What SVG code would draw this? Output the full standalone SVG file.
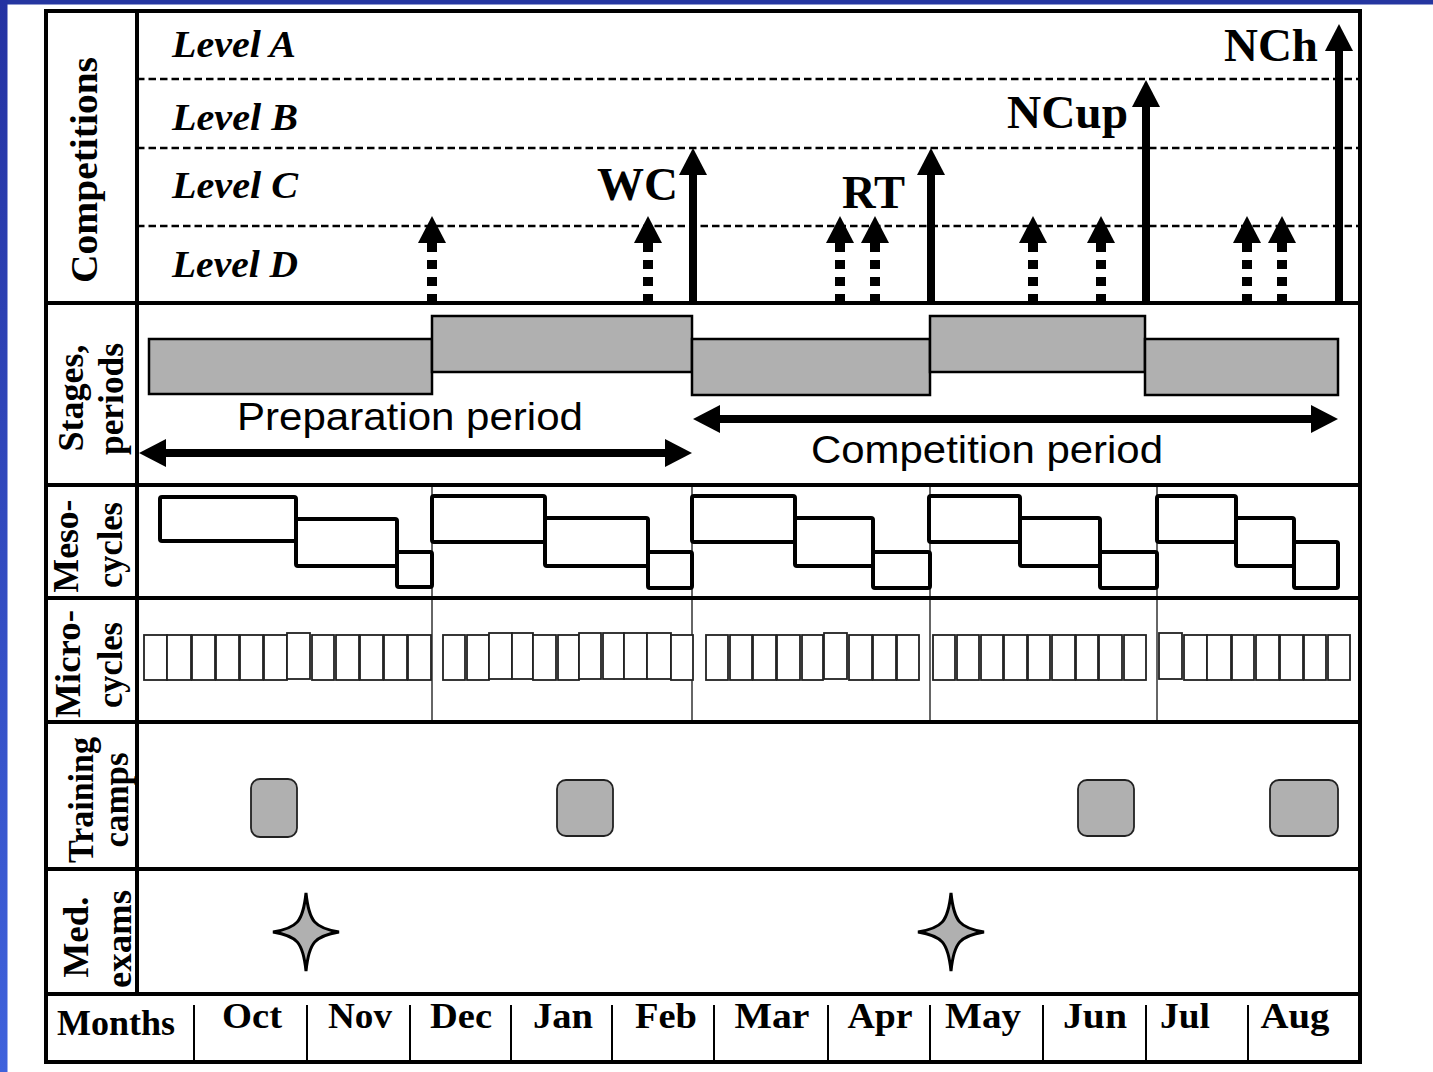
<svg xmlns="http://www.w3.org/2000/svg" width="1433" height="1072" viewBox="0 0 1433 1072">
<defs>
<style>
.frame{fill:none;stroke:#000;stroke-width:4}
.div{stroke:#000;stroke-width:4}
.dash{stroke:#000;stroke-width:2.5;stroke-dasharray:7.5 4}
.thin{stroke:#333;stroke-width:1.5}
.msep{stroke:#000;stroke-width:2}
.lbl{font-family:"Liberation Serif","Times New Roman",serif;font-weight:bold;fill:#000;text-anchor:middle}
.lvl{font-family:"Liberation Serif","Times New Roman",serif;font-weight:bold;font-style:italic;font-size:37px;fill:#000}
.comp{font-family:"Liberation Serif","Times New Roman",serif;font-weight:bold;font-size:46px;fill:#000}
.per{font-family:"Liberation Sans",Arial,sans-serif;font-size:38px;fill:#000}
.mon{font-family:"Liberation Serif","Times New Roman",serif;font-weight:bold;font-size:36px;fill:#000;text-anchor:middle}
.stage{fill:#b0b0b0;stroke:#000;stroke-width:2.5}
.meso{fill:none;stroke:#000;stroke-width:4;stroke-linejoin:round}
.micro{fill:#fff;stroke:#222;stroke-width:1.8}
.camp{fill:#b0b0b0;stroke:#222;stroke-width:1.8}
.star{fill:#b0b0b0;stroke:#000;stroke-width:3;stroke-linejoin:miter}
.solid{stroke:#000;stroke-width:8;fill:none}
.dotted{stroke:#000;stroke-width:10;stroke-dasharray:9 8;fill:none}
.period{stroke:#000;stroke-width:8;fill:none}
</style>
<linearGradient id="side" x1="0" y1="0" x2="0" y2="1">
<stop offset="0" stop-color="#2432a2"/>
<stop offset="1" stop-color="#3f62dc"/>
</linearGradient>
<marker id="headS" markerUnits="userSpaceOnUse" markerWidth="28" markerHeight="28" viewBox="0 0 28 28" refX="17" refY="14" orient="auto-start-reverse">
<path d="M0,0 L27,14 L0,28 Z" fill="#000"/>
</marker>
<marker id="headD" markerUnits="userSpaceOnUse" markerWidth="28" markerHeight="28" viewBox="0 0 28 28" refX="0" refY="14" orient="auto">
<path d="M0,0 L27,14 L0,28 Z" fill="#000"/>
</marker>
<path id="starShape" d="M0,-39 C3,-10 9,-4 33,0 C9,4 3,10 0,39 C-3,10 -9,4 -33,0 C-9,-4 -3,-10 0,-39 Z"/>
</defs>

<rect x="0" y="0" width="1433" height="1072" fill="#fff"/>
<rect x="0" y="0" width="1433" height="4.5" fill="#2536a0"/>
<rect x="0" y="0" width="7.5" height="1072" fill="url(#side)"/>

<g id="grid">
<line class="dash" x1="137" y1="79" x2="1360" y2="79"/>
<line class="dash" x1="137" y1="148" x2="1360" y2="148"/>
<line class="dash" x1="137" y1="226" x2="1360" y2="226"/>
<line class="thin" x1="432" y1="487" x2="432" y2="720"/>
<line class="thin" x1="692" y1="487" x2="692" y2="720"/>
<line class="thin" x1="930" y1="487" x2="930" y2="720"/>
<line class="thin" x1="1157" y1="487" x2="1157" y2="720"/>
<rect class="frame" x="46" y="11" width="1314" height="1051"/>
<line class="div" x1="137" y1="11" x2="137" y2="994"/>
<line class="div" x1="46" y1="303" x2="1360" y2="303"/>
<line class="div" x1="46" y1="485" x2="1360" y2="485"/>
<line class="div" x1="46" y1="598" x2="1360" y2="598"/>
<line class="div" x1="46" y1="722" x2="1360" y2="722"/>
<line class="div" x1="46" y1="869" x2="1360" y2="869"/>
<line class="div" x1="46" y1="994" x2="1360" y2="994"/>
</g>

<g id="row-labels">
<text class="lbl" font-size="38" transform="translate(97,170) rotate(-90)" textLength="226" lengthAdjust="spacingAndGlyphs">Competitions</text>
<text class="lbl" font-size="36" transform="translate(83,398) rotate(-90)" textLength="107" lengthAdjust="spacingAndGlyphs">Stages,</text>
<text class="lbl" font-size="36" transform="translate(123,399) rotate(-90)" textLength="112" lengthAdjust="spacingAndGlyphs">periods</text>
<text class="lbl" font-size="35" transform="translate(78,546) rotate(-90)" textLength="93" lengthAdjust="spacingAndGlyphs">Meso-</text>
<text class="lbl" font-size="35" transform="translate(122,545) rotate(-90)" textLength="86" lengthAdjust="spacingAndGlyphs">cycles</text>
<text class="lbl" font-size="35" transform="translate(80,664) rotate(-90)" textLength="108" lengthAdjust="spacingAndGlyphs">Micro-</text>
<text class="lbl" font-size="35" transform="translate(122,665) rotate(-90)" textLength="86" lengthAdjust="spacingAndGlyphs">cycles</text>
<text class="lbl" font-size="36" transform="translate(93,800) rotate(-90)" textLength="126" lengthAdjust="spacingAndGlyphs">Training</text>
<text class="lbl" font-size="36" transform="translate(128,800) rotate(-90)" textLength="95" lengthAdjust="spacingAndGlyphs">camps</text>
<text class="lbl" font-size="36" transform="translate(88,937) rotate(-90)" textLength="81" lengthAdjust="spacingAndGlyphs">Med.</text>
<text class="lbl" font-size="36" transform="translate(131,939) rotate(-90)" textLength="98" lengthAdjust="spacingAndGlyphs">exams</text>
</g>

<g id="levels">
<text class="lvl" x="172" y="57" textLength="124" lengthAdjust="spacingAndGlyphs">Level A</text>
<text class="lvl" x="172" y="130" textLength="126" lengthAdjust="spacingAndGlyphs">Level B</text>
<text class="lvl" x="172" y="198" textLength="126" lengthAdjust="spacingAndGlyphs">Level C</text>
<text class="lvl" x="172" y="277" textLength="126" lengthAdjust="spacingAndGlyphs">Level D</text>
</g>

<g id="competition-labels">
<text class="comp" x="597" y="200" textLength="81" lengthAdjust="spacingAndGlyphs">WC</text>
<text class="comp" x="842" y="208" textLength="63" lengthAdjust="spacingAndGlyphs">RT</text>
<text class="comp" x="1007" y="128" textLength="121" lengthAdjust="spacingAndGlyphs">NCup</text>
<text class="comp" x="1224" y="61" textLength="94" lengthAdjust="spacingAndGlyphs">NCh</text>
</g>

<g id="connectors">
<line class="dotted" x1="432" y1="303" x2="432" y2="243" marker-end="url(#headD)"/>
<line class="dotted" x1="648" y1="303" x2="648" y2="243" marker-end="url(#headD)"/>
<line class="dotted" x1="840" y1="303" x2="840" y2="243" marker-end="url(#headD)"/>
<line class="dotted" x1="875" y1="303" x2="875" y2="243" marker-end="url(#headD)"/>
<line class="dotted" x1="1033" y1="303" x2="1033" y2="243" marker-end="url(#headD)"/>
<line class="dotted" x1="1101" y1="303" x2="1101" y2="243" marker-end="url(#headD)"/>
<line class="dotted" x1="1247" y1="303" x2="1247" y2="243" marker-end="url(#headD)"/>
<line class="dotted" x1="1282" y1="303" x2="1282" y2="243" marker-end="url(#headD)"/>
<line class="solid" x1="693" y1="303" x2="693" y2="158" marker-end="url(#headS)"/>
<line class="solid" x1="931" y1="303" x2="931" y2="158" marker-end="url(#headS)"/>
<line class="solid" x1="1146" y1="303" x2="1146" y2="90" marker-end="url(#headS)"/>
<line class="solid" x1="1339" y1="303" x2="1339" y2="34" marker-end="url(#headS)"/>
<line class="period" x1="149" y1="453" x2="682" y2="453" marker-start="url(#headS)" marker-end="url(#headS)"/>
<line class="period" x1="703" y1="419" x2="1328" y2="419" marker-start="url(#headS)" marker-end="url(#headS)"/>
</g>

<g id="stages">
<rect class="stage" x="149" y="339" width="283" height="55"/>
<rect class="stage" x="432" y="316" width="260" height="56"/>
<rect class="stage" x="692" y="339" width="238" height="56"/>
<rect class="stage" x="930" y="316" width="215" height="56"/>
<rect class="stage" x="1145" y="339" width="193" height="56"/>
<text class="per" x="237" y="430" textLength="346" lengthAdjust="spacingAndGlyphs">Preparation period</text>
<text class="per" x="811" y="463" textLength="352" lengthAdjust="spacingAndGlyphs">Competition period</text>
</g>

<g id="mesocycles">
<rect class="meso" x="160" y="497" width="136" height="44" rx="2"/>
<rect class="meso" x="296" y="519" width="101" height="47" rx="2"/>
<rect class="meso" x="397" y="552" width="35" height="35" rx="2"/>
<rect class="meso" x="432" y="496" width="113" height="46" rx="2"/>
<rect class="meso" x="545" y="518" width="103" height="48" rx="2"/>
<rect class="meso" x="648" y="552" width="44" height="36" rx="2"/>
<rect class="meso" x="692" y="496" width="103" height="46" rx="2"/>
<rect class="meso" x="795" y="518" width="78" height="48" rx="2"/>
<rect class="meso" x="873" y="552" width="57" height="36" rx="2"/>
<rect class="meso" x="929" y="496" width="91" height="46" rx="2"/>
<rect class="meso" x="1020" y="518" width="80" height="48" rx="2"/>
<rect class="meso" x="1100" y="552" width="57" height="36" rx="2"/>
<rect class="meso" x="1157" y="496" width="79" height="46" rx="2"/>
<rect class="meso" x="1236" y="518" width="58" height="48" rx="2"/>
<rect class="meso" x="1294" y="542" width="44" height="46" rx="2"/>
</g>

<g id="microcycles">
<rect class="micro" x="144" y="635" width="23" height="45"/>
<rect class="micro" x="167" y="635" width="24" height="45"/>
<rect class="micro" x="192" y="635" width="23" height="45"/>
<rect class="micro" x="216" y="635" width="23" height="45"/>
<rect class="micro" x="240" y="635" width="23" height="45"/>
<rect class="micro" x="264" y="635" width="23" height="45"/>
<rect class="micro" x="287" y="633" width="23" height="46"/>
<rect class="micro" x="312" y="635" width="22" height="45"/>
<rect class="micro" x="336" y="635" width="23" height="45"/>
<rect class="micro" x="360" y="635" width="23" height="45"/>
<rect class="micro" x="384" y="635" width="23" height="45"/>
<rect class="micro" x="408" y="635" width="23" height="45"/>
<rect class="micro" x="443" y="635" width="22" height="45"/>
<rect class="micro" x="467" y="635" width="22" height="45"/>
<rect class="micro" x="489" y="633" width="23" height="46"/>
<rect class="micro" x="512" y="633" width="21" height="46"/>
<rect class="micro" x="533" y="635" width="23" height="45"/>
<rect class="micro" x="558" y="635" width="21" height="45"/>
<rect class="micro" x="579" y="633" width="22" height="46"/>
<rect class="micro" x="603" y="633" width="21" height="46"/>
<rect class="micro" x="624" y="633" width="23" height="46"/>
<rect class="micro" x="647" y="633" width="24" height="46"/>
<rect class="micro" x="671" y="635" width="22" height="45"/>
<rect class="micro" x="706" y="635" width="22" height="45"/>
<rect class="micro" x="730" y="635" width="22" height="45"/>
<rect class="micro" x="753" y="635" width="23" height="45"/>
<rect class="micro" x="777" y="635" width="23" height="45"/>
<rect class="micro" x="802" y="635" width="21" height="45"/>
<rect class="micro" x="824" y="633" width="23" height="46"/>
<rect class="micro" x="849" y="635" width="23" height="45"/>
<rect class="micro" x="873" y="635" width="23" height="45"/>
<rect class="micro" x="897" y="635" width="22" height="45"/>
<rect class="micro" x="933" y="635" width="22" height="45"/>
<rect class="micro" x="957" y="635" width="22" height="45"/>
<rect class="micro" x="981" y="635" width="22" height="45"/>
<rect class="micro" x="1004" y="635" width="23" height="45"/>
<rect class="micro" x="1028" y="635" width="22" height="45"/>
<rect class="micro" x="1052" y="635" width="23" height="45"/>
<rect class="micro" x="1076" y="635" width="22" height="45"/>
<rect class="micro" x="1099" y="635" width="23" height="45"/>
<rect class="micro" x="1124" y="635" width="22" height="45"/>
<rect class="micro" x="1159" y="633" width="23" height="46"/>
<rect class="micro" x="1184" y="635" width="23" height="45"/>
<rect class="micro" x="1207" y="635" width="24" height="45"/>
<rect class="micro" x="1232" y="635" width="22" height="45"/>
<rect class="micro" x="1256" y="635" width="23" height="45"/>
<rect class="micro" x="1280" y="635" width="23" height="45"/>
<rect class="micro" x="1304" y="635" width="22" height="45"/>
<rect class="micro" x="1328" y="635" width="22" height="45"/>
</g>

<g id="training-camps">
<rect class="camp" x="251" y="779" width="46" height="58" rx="9"/>
<rect class="camp" x="557" y="780" width="56" height="56" rx="9"/>
<rect class="camp" x="1078" y="780" width="56" height="56" rx="9"/>
<rect class="camp" x="1270" y="780" width="68" height="56" rx="9"/>
</g>

<g id="med-exams">
<use href="#starShape" class="star" x="306" y="932"/>
<use href="#starShape" class="star" x="951" y="932"/>
</g>

<g id="months">
<line class="msep" x1="194" y1="1005" x2="194" y2="1060"/>
<line class="msep" x1="307" y1="1005" x2="307" y2="1060"/>
<line class="msep" x1="410" y1="1005" x2="410" y2="1060"/>
<line class="msep" x1="511" y1="1005" x2="511" y2="1060"/>
<line class="msep" x1="612" y1="1005" x2="612" y2="1060"/>
<line class="msep" x1="714" y1="1005" x2="714" y2="1060"/>
<line class="msep" x1="828" y1="1005" x2="828" y2="1060"/>
<line class="msep" x1="930" y1="1005" x2="930" y2="1060"/>
<line class="msep" x1="1043" y1="1005" x2="1043" y2="1060"/>
<line class="msep" x1="1146" y1="1005" x2="1146" y2="1060"/>
<line class="msep" x1="1248" y1="1005" x2="1248" y2="1060"/>
<text class="mon" x="116" y="1035" font-size="34" textLength="118" lengthAdjust="spacingAndGlyphs">Months</text>
<text class="mon" x="252" y="1028" textLength="60" lengthAdjust="spacingAndGlyphs">Oct</text>
<text class="mon" x="360" y="1028" textLength="64" lengthAdjust="spacingAndGlyphs">Nov</text>
<text class="mon" x="461" y="1028" textLength="62" lengthAdjust="spacingAndGlyphs">Dec</text>
<text class="mon" x="563" y="1028" textLength="60" lengthAdjust="spacingAndGlyphs">Jan</text>
<text class="mon" x="666" y="1028" textLength="62" lengthAdjust="spacingAndGlyphs">Feb</text>
<text class="mon" x="772" y="1028" textLength="75" lengthAdjust="spacingAndGlyphs">Mar</text>
<text class="mon" x="880" y="1028" textLength="65" lengthAdjust="spacingAndGlyphs">Apr</text>
<text class="mon" x="983" y="1028" textLength="76" lengthAdjust="spacingAndGlyphs">May</text>
<text class="mon" x="1095" y="1028" textLength="64" lengthAdjust="spacingAndGlyphs">Jun</text>
<text class="mon" x="1185" y="1028" textLength="50" lengthAdjust="spacingAndGlyphs">Jul</text>
<text class="mon" x="1295" y="1028" textLength="69" lengthAdjust="spacingAndGlyphs">Aug</text>
</g>
</svg>
